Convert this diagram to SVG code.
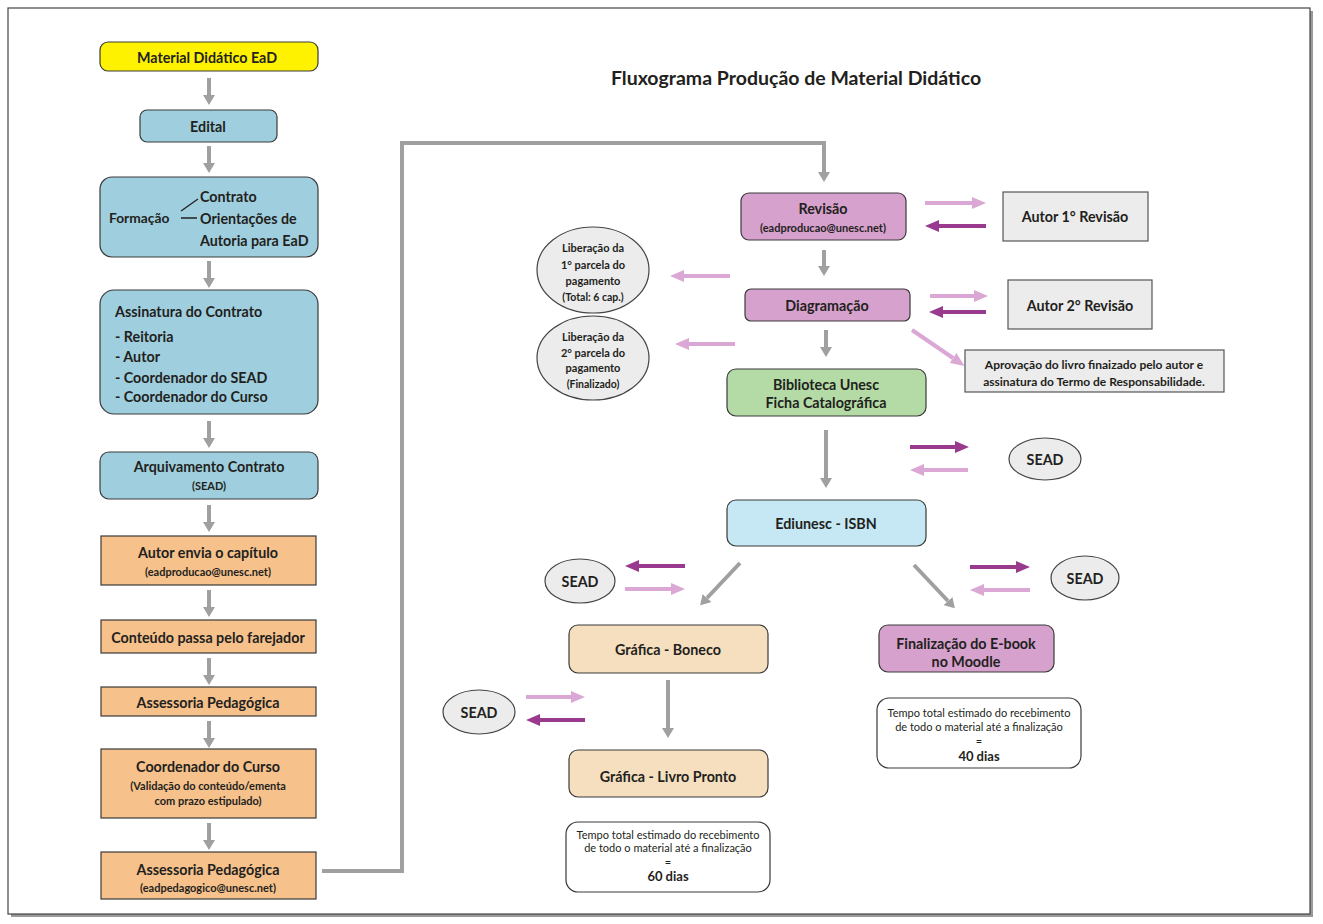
<svg xmlns="http://www.w3.org/2000/svg" width="1323" height="924" viewBox="0 0 1323 924">
<defs>
<style>
text{font-family:Lato,"Open Sans","Liberation Sans",sans-serif;font-weight:bold;fill:#231f20;dominant-baseline:central}
.c{text-anchor:middle}
.t{font-size:14.3px}
.s{font-size:11px}
.xs{font-size:12.5px}
.n{font-size:11px;font-weight:normal}
.ti{font-size:19.5px}
.box{stroke:#3a3a3a;stroke-width:1.2}
.yel{fill:#fff200}
.blu{fill:#9fcfdf}
.lbl{fill:#c6e8f4}
.org{fill:#f6c18b}
.pnk{fill:#d6a1cd}
.grn{fill:#b4dba5}
.bei{fill:#f5dfbf}
.gry{fill:#ececec;stroke:#555;stroke-width:1.2}
.wht{fill:#fff;stroke:#3a3a3a;stroke-width:1.2}
.ell{fill:#ececec;stroke:#444;stroke-width:1.2}
.ag{stroke:#a0a0a0;stroke-width:4;fill:none}
.al{stroke:#dba7d5;stroke-width:4;fill:none}
.ad{stroke:#9a3a8e;stroke-width:4;fill:none}
</style>
<marker id="mg" viewBox="0 0 10 12" refX="0" refY="6" markerWidth="10" markerHeight="12" markerUnits="userSpaceOnUse" orient="auto"><path d="M0,0 L10,6 L0,12 z" fill="#a0a0a0"/></marker>
<marker id="ml" viewBox="0 0 14 12" refX="0" refY="6" markerWidth="14" markerHeight="12" markerUnits="userSpaceOnUse" orient="auto"><path d="M0,0 L14,6 L0,12 z" fill="#dba7d5"/></marker>
<marker id="md" viewBox="0 0 14 12" refX="0" refY="6" markerWidth="14" markerHeight="12" markerUnits="userSpaceOnUse" orient="auto"><path d="M0,0 L14,6 L0,12 z" fill="#9a3a8e"/></marker>
</defs>
<rect x="0" y="0" width="1323" height="924" fill="#fff"/>
<rect x="11" y="11" width="1302" height="906" fill="#9a9a9a"/>
<rect x="8" y="8" width="1302" height="906" fill="#fff" stroke="#444" stroke-width="1.2"/>

<text class="ti" x="796" y="77" text-anchor="middle">Fluxograma Produção de Material Didático</text>

<g id="connectors">
<line class="ag" x1="209" y1="78" x2="209" y2="95" marker-end="url(#mg)"/>
<line class="ag" x1="209" y1="146" x2="209" y2="163" marker-end="url(#mg)"/>
<line class="ag" x1="209" y1="261" x2="209" y2="278" marker-end="url(#mg)"/>
<line class="ag" x1="209" y1="421" x2="209" y2="438" marker-end="url(#mg)"/>
<line class="ag" x1="209" y1="505" x2="209" y2="522" marker-end="url(#mg)"/>
<line class="ag" x1="209" y1="590" x2="209" y2="607" marker-end="url(#mg)"/>
<line class="ag" x1="209" y1="658" x2="209" y2="675" marker-end="url(#mg)"/>
<line class="ag" x1="209" y1="721" x2="209" y2="738" marker-end="url(#mg)"/>
<line class="ag" x1="209" y1="823" x2="209" y2="840" marker-end="url(#mg)"/>
<polyline class="ag" points="322,871 402,871 402,143 824,143 824,172" marker-end="url(#mg)"/>
<line class="ag" x1="824" y1="250" x2="824" y2="266" marker-end="url(#mg)"/>
<line class="ag" x1="826" y1="330" x2="826" y2="347" marker-end="url(#mg)"/>
<line class="ag" x1="826" y1="430" x2="826" y2="478" marker-end="url(#mg)"/>
<line class="ag" x1="740" y1="563" x2="707" y2="598" marker-end="url(#mg)"/>
<line class="ag" x1="914" y1="565" x2="948" y2="601" marker-end="url(#mg)"/>
<line class="ag" x1="668" y1="680" x2="668" y2="728" marker-end="url(#mg)"/>

<line class="al" x1="925" y1="203" x2="972" y2="203" marker-end="url(#ml)"/>
<line class="ad" x1="986" y1="226" x2="939" y2="226" marker-end="url(#md)"/>
<line class="al" x1="930" y1="296" x2="974" y2="296" marker-end="url(#ml)"/>
<line class="ad" x1="986" y1="312" x2="943" y2="312" marker-end="url(#md)"/>
<line class="al" x1="912" y1="330" x2="953" y2="358" marker-end="url(#ml)"/>
<line class="al" x1="730" y1="276" x2="684" y2="276" marker-end="url(#ml)"/>
<line class="al" x1="735" y1="344" x2="689" y2="344" marker-end="url(#ml)"/>
<line class="ad" x1="910" y1="447" x2="955" y2="447" marker-end="url(#md)"/>
<line class="al" x1="968" y1="470" x2="924" y2="470" marker-end="url(#ml)"/>
<line class="ad" x1="685" y1="566" x2="639" y2="566" marker-end="url(#md)"/>
<line class="al" x1="625" y1="589" x2="671" y2="589" marker-end="url(#ml)"/>
<line class="ad" x1="970" y1="567" x2="1016" y2="567" marker-end="url(#md)"/>
<line class="al" x1="1030" y1="590" x2="984" y2="590" marker-end="url(#ml)"/>
<line class="al" x1="526" y1="697" x2="571" y2="697" marker-end="url(#ml)"/>
<line class="ad" x1="585" y1="720" x2="540" y2="720" marker-end="url(#md)"/>
</g>

<g id="material">
<rect class="box yel" x="100" y="42" width="218" height="29" rx="8"/>
<text class="t c" x="207" y="57">Material Didático EaD</text>
</g>
<g id="edital">
<rect class="box blu" x="140" y="110" width="137" height="32" rx="7"/>
<text class="t c" x="208" y="126">Edital</text>
</g>
<g id="formacao">
<rect class="box blu" x="100" y="177" width="218" height="80" rx="12"/>
<text class="t" x="109" y="217" style="font-size:13.8px">Formação</text>
<line x1="181" y1="211" x2="198" y2="199" stroke="#231f20" stroke-width="1.3"/>
<line x1="181" y1="218" x2="197" y2="218" stroke="#231f20" stroke-width="1.5"/>
<text class="t" x="200" y="196">Contrato</text>
<text class="t" x="200" y="218">Orientações de</text>
<text class="t" x="200" y="240">Autoria para EaD</text>
</g>
<g id="assinatura">
<rect class="box blu" x="100" y="290" width="218" height="124" rx="14"/>
<text class="t" x="115" y="311">Assinatura do Contrato</text>
<text class="t" x="115" y="336">- Reitoria</text>
<text class="t" x="115" y="356">- Autor</text>
<text class="t" x="115" y="377">- Coordenador do SEAD</text>
<text class="t" x="115" y="396">- Coordenador do Curso</text>
</g>
<g id="arquivamento">
<rect class="box blu" x="100" y="452" width="218" height="47" rx="9"/>
<text class="t c" x="209" y="466">Arquivamento Contrato</text>
<text class="s c" x="209" y="485">(SEAD)</text>
</g>
<g id="autor-envia">
<rect class="box org" x="101" y="536" width="215" height="49"/>
<text class="t c" x="208" y="552">Autor envia o capítulo</text>
<text class="s c" x="208" y="571">(eadproducao@unesc.net)</text>
</g>
<g id="conteudo">
<rect class="box org" x="101" y="620" width="215" height="33"/>
<text class="t c" x="208" y="637">Conteúdo passa pelo farejador</text>
</g>
<g id="assessoria1">
<rect class="box org" x="101" y="687" width="215" height="29"/>
<text class="t c" x="208" y="702">Assessoria Pedagógica</text>
</g>
<g id="coordenador">
<rect class="box org" x="101" y="749" width="215" height="69"/>
<text class="t c" x="208" y="766">Coordenador do Curso</text>
<text class="s c" x="208" y="785">(Validação do conteúdo/ementa</text>
<text class="s c" x="208" y="800">com prazo estipulado)</text>
</g>
<g id="assessoria2">
<rect class="box org" x="101" y="852" width="215" height="47"/>
<text class="t c" x="208" y="869">Assessoria Pedagógica</text>
<text class="s c" x="208" y="887">(eadpedagogico@unesc.net)</text>
</g>

<g id="revisao">
<rect class="box pnk" x="741" y="193" width="165" height="47" rx="8"/>
<text class="t c" x="823" y="208">Revisão</text>
<text class="s c" x="823" y="227">(eadproducao@unesc.net)</text>
</g>
<g id="autor1">
<rect class="gry" x="1003" y="192" width="145" height="49"/>
<text class="t c" x="1075" y="216">Autor 1° Revisão</text>
</g>
<g id="diagramacao">
<rect class="box pnk" x="745" y="289" width="165" height="32" rx="6"/>
<text class="t c" x="827" y="305">Diagramação</text>
</g>
<g id="autor2">
<rect class="gry" x="1008" y="280" width="144" height="49"/>
<text class="t c" x="1080" y="305">Autor 2° Revisão</text>
</g>
<g id="aprovacao">
<rect class="gry" x="965" y="350" width="259" height="42"/>
<text class="s c" x="1094" y="364" style="font-size:12px">Aprovação do livro finaizado pelo autor e</text>
<text class="s c" x="1094" y="381" style="font-size:12px">assinatura do Termo de Responsabilidade.</text>
</g>
<g id="liberacao1">
<ellipse class="ell" cx="593" cy="270" rx="56" ry="43"/>
<text class="s c" x="593" y="247">Liberação da</text>
<text class="s c" x="593" y="264">1° parcela do</text>
<text class="s c" x="593" y="280">pagamento</text>
<text class="s c" x="593" y="297" style="font-size:10.5px">(Total: 6 cap.)</text>
</g>
<g id="liberacao2">
<ellipse class="ell" cx="593" cy="358" rx="56" ry="42"/>
<text class="s c" x="593" y="336">Liberação da</text>
<text class="s c" x="593" y="352">2° parcela do</text>
<text class="s c" x="593" y="367">pagamento</text>
<text class="s c" x="593" y="384" style="font-size:10.5px">(Finalizado)</text>
</g>
<g id="biblioteca">
<rect class="box grn" x="727" y="369" width="199" height="47" rx="9"/>
<text class="t c" x="826" y="384">Biblioteca Unesc</text>
<text class="t c" x="826" y="402">Ficha Catalográfica</text>
</g>
<g id="sead1">
<ellipse class="ell" cx="1045" cy="459" rx="36" ry="21"/>
<text class="t c" x="1045" y="459">SEAD</text>
</g>
<g id="ediunesc">
<rect class="box lbl" x="727" y="500" width="199" height="46" rx="9"/>
<text class="t c" x="826" y="523">Ediunesc - ISBN</text>
</g>
<g id="sead2">
<ellipse class="ell" cx="580" cy="581" rx="35" ry="22"/>
<text class="t c" x="580" y="581">SEAD</text>
</g>
<g id="sead3">
<ellipse class="ell" cx="1085" cy="578" rx="34" ry="22"/>
<text class="t c" x="1085" y="578">SEAD</text>
</g>
<g id="boneco">
<rect class="box bei" x="569" y="625" width="199" height="48" rx="9"/>
<text class="t c" x="668" y="649">Gráfica - Boneco</text>
</g>
<g id="ebook">
<rect class="box pnk" x="879" y="625" width="175" height="47" rx="9"/>
<text class="t c" x="966" y="643">Finalização do E-book</text>
<text class="t c" x="966" y="661">no Moodle</text>
</g>
<g id="sead4">
<ellipse class="ell" cx="479" cy="712" rx="36" ry="22"/>
<text class="t c" x="479" y="712">SEAD</text>
</g>
<g id="livro">
<rect class="box bei" x="569" y="750" width="199" height="47" rx="9"/>
<text class="t c" x="668" y="776">Gráfica - Livro Pronto</text>
</g>
<g id="tempo60">
<rect class="wht" x="566" y="822" width="204" height="70" rx="12"/>
<text class="n c" x="668" y="834">Tempo total estimado do recebimento</text>
<text class="n c" x="668" y="847">de todo o material até a finalização</text>
<text class="n c" x="668" y="861">=</text>
<text class="t c" x="668" y="876" style="font-size:13px">60 dias</text>
</g>
<g id="tempo40">
<rect class="wht" x="877" y="698" width="204" height="70" rx="12"/>
<text class="n c" x="979" y="712">Tempo total estimado do recebimento</text>
<text class="n c" x="979" y="726">de todo o material até a finalização</text>
<text class="n c" x="979" y="740">=</text>
<text class="t c" x="979" y="756" style="font-size:13px">40 dias</text>
</g>
</svg>
